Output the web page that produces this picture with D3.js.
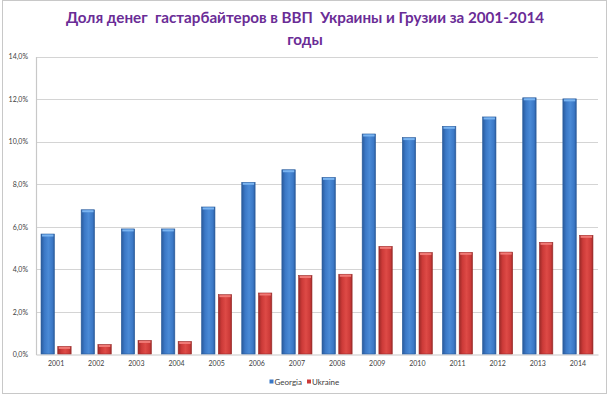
<!DOCTYPE html>
<html><head><meta charset="utf-8">
<script src="https://cdn.jsdelivr.net/npm/d3@7"></script>
<style>body{margin:0;background:#fff}svg{display:block}</style>
</head><body>
<script>
const years = ["2001","2002","2003","2004","2005","2006","2007","2008","2009","2010","2011","2012","2013","2014"];
const georgia = [5.66,6.8,5.9,5.9,6.93,8.09,8.68,8.32,10.36,10.19,10.72,11.16,12.06,12.01];
const ukraine = [0.38,0.47,0.66,0.61,2.81,2.89,3.71,3.77,5.08,4.79,4.8,4.81,5.27,5.6];
const seriesNames = ["Georgia","Ukraine"];
const yTicks = [0,2,4,6,8,10,12,14];
const titleLines = ["Доля денег  гастарбайтеров в ВВП  Украины и Грузии за 2001-2014","годы"];

const W=610,H=396;
const FONT="Lato, 'Open Sans', sans-serif";
const svg=d3.select("body").append("svg").attr("width",W).attr("height",H);
const defs=svg.append("defs");
function grad(id,dark,mid,light){
  const g=defs.append("linearGradient").attr("id",id).attr("x1","0").attr("x2","1").attr("y1","0").attr("y2","0");
  g.append("stop").attr("offset","0%").attr("stop-color",dark);
  g.append("stop").attr("offset","25%").attr("stop-color",mid);
  g.append("stop").attr("offset","55%").attr("stop-color",light);
  g.append("stop").attr("offset","85%").attr("stop-color",mid);
  g.append("stop").attr("offset","100%").attr("stop-color",dark);
}
grad("gBlue","#2a5a9a","#3b78c6","#4a8ad6");
grad("gRed","#9a2a28","#cc3a38","#de4a46");
const colors={Georgia:"url(#gBlue)",Ukraine:"url(#gRed)"};
const solid={Georgia:"#3b78c6",Ukraine:"#cc3a38"};
const tops={Georgia:"#7ab4f0",Ukraine:"#f07a76"};

// frame
svg.append("rect").attr("x",2.5).attr("y",0.5).attr("width",604).attr("height",393).attr("fill","none").attr("stroke","#c8c8c8");

const L=36,R=598,T=56.5,B=354.5;
const y=d3.scaleLinear().domain([0,14]).range([B,T]);
const x0=d3.scaleBand().domain(years).range([L,R]).paddingInner(0).paddingOuter(0);
const x1=d3.scaleBand().domain(seriesNames).range([0,x0.bandwidth()]).paddingInner(0.2).paddingOuter(0.3);

// gridlines
svg.append("g").selectAll("line").data(yTicks.filter(d=>d>0)).join("line")
  .attr("x1",L).attr("x2",R).attr("y1",d=>Math.round(y(d))+0.5).attr("y2",d=>Math.round(y(d))+0.5)
  .attr("stroke","#d4d4d4").attr("stroke-width",1.2);

// y axis
const yAxis=d3.axisLeft(y).tickValues(yTicks).tickSize(0).tickPadding(8)
  .tickFormat(d=>d3.format(".1f")(d).replace(".",",")+"%");
const ya=svg.append("g").attr("transform",`translate(${L},0)`).call(yAxis);
ya.select(".domain").attr("stroke","#c8c8c8").attr("stroke-width",1.2);
ya.selectAll("text").attr("font-family",FONT).attr("font-size",7).attr("fill","#404040");

// x axis
const xAxis=d3.axisBottom(x0).tickSize(0).tickPadding(7);
const xa=svg.append("g").attr("transform",`translate(0,${B})`).call(xAxis);
xa.select(".domain").attr("stroke","#c8c8c8").attr("stroke-width",1.2);
xa.selectAll("text").attr("font-family",FONT).attr("font-size",7).attr("fill","#404040");

// bars
const data=years.map((yr,i)=>({year:yr,vals:[{k:"Georgia",v:georgia[i]},{k:"Ukraine",v:ukraine[i]}]}));
const gb=svg.append("g").selectAll("g").data(data).join("g").attr("transform",d=>`translate(${x0(d.year)},0)`);
gb.selectAll("rect.bar").data(d=>d.vals).join("rect").attr("class","bar")
  .attr("x",d=>x1(d.k)).attr("width",x1.bandwidth())
  .attr("y",d=>y(d.v)).attr("height",d=>B-0.5-y(d.v))
  .attr("fill",d=>colors[d.k]).attr("stroke",d=>d.k==="Georgia"?"#2b5d9c":"#9c2e2c").attr("stroke-width",0.6);
gb.selectAll("rect.cap").data(d=>d.vals).join("rect").attr("class","cap")
  .attr("x",d=>x1(d.k)+1).attr("width",x1.bandwidth()-2)
  .attr("y",d=>y(d.v)+0.5).attr("height",2)
  .attr("fill",d=>tops[d.k]);

// title
svg.append("g").selectAll("text").data(titleLines).join("text")
  .attr("x",305).attr("y",(d,i)=>23+i*22).attr("text-anchor","middle")
  .attr("font-family",FONT).attr("font-weight","bold").attr("font-size",15.2)
  .attr("fill","#6a2c96").style("white-space","pre").text(d=>d);

// legend
const lg=svg.append("g").attr("transform","translate(269.5,385)");
const li=lg.selectAll("g").data(seriesNames).join("g").attr("transform",(d,i)=>`translate(${i*37.5},0)`);
li.append("rect").attr("x",0).attr("y",-5.5).attr("width",4).attr("height",4).attr("fill",d=>solid[d]).attr("stroke","#ffffff").attr("stroke-width",0);
li.append("text").attr("x",5).attr("y",0).attr("font-family",FONT).attr("font-size",8).attr("fill","#404040").text(d=>d);
</script>
</body></html>
